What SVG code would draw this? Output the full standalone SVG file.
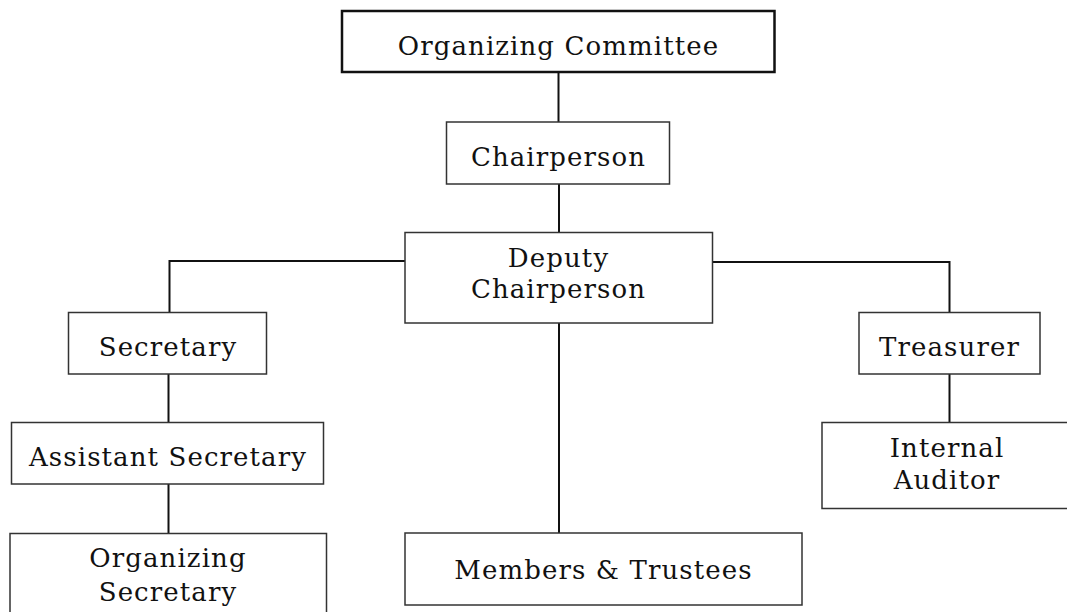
<svg xmlns="http://www.w3.org/2000/svg" width="1067" height="612" viewBox="0 0 1067 612">
<style>
.box{fill:#fff;stroke:#333;stroke-width:1.5}
.top{fill:#fff;stroke:#111;stroke-width:2.5}
.lbl{font-family:"DejaVu Serif","Liberation Serif",serif;font-size:26px;letter-spacing:1.1px;fill:#111;text-anchor:middle}
.conn{fill:none;stroke:#111;stroke-width:2}
</style>
<rect width="1067" height="612" fill="#fff"/>
<g id="connectors">
<line class="conn" x1="558.5" y1="72" x2="558.5" y2="122"/>
<line class="conn" x1="559" y1="184" x2="559" y2="232"/>
<path class="conn" d="M405,261 H169.5 V312"/>
<path class="conn" d="M712,262 H949.5 V312"/>
<line class="conn" x1="559" y1="323" x2="559" y2="533"/>
<line class="conn" x1="168.5" y1="374" x2="168.5" y2="422"/>
<line class="conn" x1="168.5" y1="484" x2="168.5" y2="533"/>
<line class="conn" x1="949.5" y1="374" x2="949.5" y2="422"/>
</g>
<g id="organizing-committee">
<rect class="top" x="342" y="11" width="432.5" height="61"/>
<text class="lbl" x="558.5" y="54.5">Organizing Committee</text>
</g>
<g id="chairperson">
<rect class="box" x="446.5" y="122" width="223" height="62"/>
<text class="lbl" x="558.5" y="165.5">Chairperson</text>
</g>
<g id="deputy-chairperson">
<rect class="box" x="405" y="232.5" width="307.5" height="90.5"/>
<text class="lbl" x="558.5" y="266.5">Deputy</text>
<text class="lbl" x="558.5" y="297.5">Chairperson</text>
</g>
<g id="secretary">
<rect class="box" x="68.5" y="312.5" width="198" height="61.5"/>
<text class="lbl" x="168" y="355.5">Secretary</text>
</g>
<g id="treasurer">
<rect class="box" x="859" y="312.5" width="181" height="61.5"/>
<text class="lbl" x="949.5" y="355.5">Treasurer</text>
</g>
<g id="assistant-secretary">
<rect class="box" x="11.5" y="422.5" width="312" height="61.5"/>
<text class="lbl" x="168" y="465.5">Assistant Secretary</text>
</g>
<g id="internal-auditor">
<rect class="box" x="822" y="422.5" width="255" height="86"/>
<text class="lbl" x="947" y="457">Internal</text>
<text class="lbl" x="947" y="489">Auditor</text>
</g>
<g id="organizing-secretary">
<rect class="box" x="10" y="533.5" width="316.5" height="90"/>
<text class="lbl" x="168" y="567">Organizing</text>
<text class="lbl" x="168" y="601">Secretary</text>
</g>
<g id="members-trustees">
<rect class="box" x="405" y="533" width="397" height="72"/>
<text class="lbl" x="603.5" y="579">Members &amp; Trustees</text>
</g>
</svg>
